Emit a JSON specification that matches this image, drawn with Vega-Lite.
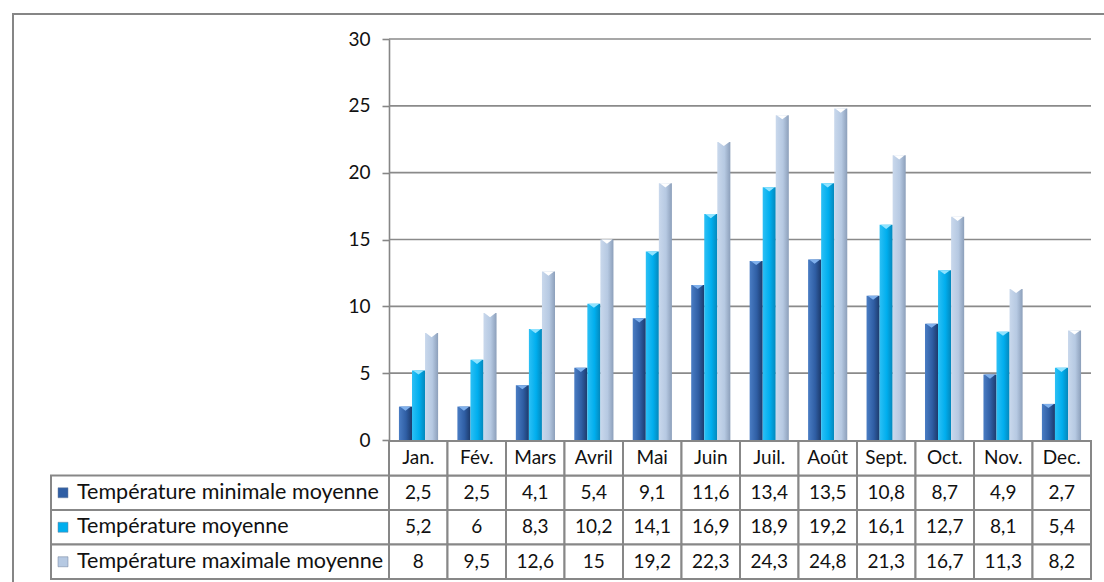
{
  "$schema": "https://vega.github.io/schema/vega-lite/v6.json",
  "width": 1095,
  "height": 572,
  "autosize": {"type": "none"},
  "padding": {"left": 13, "top": 14, "right": 0, "bottom": 0},
  "background": "white",
  "config": {
    "view": {"stroke": "#868686", "strokeWidth": 2},
    "locale": {"number": {"decimal": ",", "thousands": " ", "grouping": [3], "currency": ["", " €"]}},
    "text": {"font": "Lato", "fontSize": 19, "color": "#111111"}
  },
  "datasets": {
    "temps": [
      {"month": "Jan.", "series": "Température minimale moyenne", "value": 2.5},
      {"month": "Fév.", "series": "Température minimale moyenne", "value": 2.5},
      {"month": "Mars", "series": "Température minimale moyenne", "value": 4.1},
      {"month": "Avril", "series": "Température minimale moyenne", "value": 5.4},
      {"month": "Mai", "series": "Température minimale moyenne", "value": 9.1},
      {"month": "Juin", "series": "Température minimale moyenne", "value": 11.6},
      {"month": "Juil.", "series": "Température minimale moyenne", "value": 13.4},
      {"month": "Août", "series": "Température minimale moyenne", "value": 13.5},
      {"month": "Sept.", "series": "Température minimale moyenne", "value": 10.8},
      {"month": "Oct.", "series": "Température minimale moyenne", "value": 8.7},
      {"month": "Nov.", "series": "Température minimale moyenne", "value": 4.9},
      {"month": "Dec.", "series": "Température minimale moyenne", "value": 2.7},
      {"month": "Jan.", "series": "Température moyenne", "value": 5.2},
      {"month": "Fév.", "series": "Température moyenne", "value": 6},
      {"month": "Mars", "series": "Température moyenne", "value": 8.3},
      {"month": "Avril", "series": "Température moyenne", "value": 10.2},
      {"month": "Mai", "series": "Température moyenne", "value": 14.1},
      {"month": "Juin", "series": "Température moyenne", "value": 16.9},
      {"month": "Juil.", "series": "Température moyenne", "value": 18.9},
      {"month": "Août", "series": "Température moyenne", "value": 19.2},
      {"month": "Sept.", "series": "Température moyenne", "value": 16.1},
      {"month": "Oct.", "series": "Température moyenne", "value": 12.7},
      {"month": "Nov.", "series": "Température moyenne", "value": 8.1},
      {"month": "Dec.", "series": "Température moyenne", "value": 5.4},
      {"month": "Jan.", "series": "Température maximale moyenne", "value": 8},
      {"month": "Fév.", "series": "Température maximale moyenne", "value": 9.5},
      {"month": "Mars", "series": "Température maximale moyenne", "value": 12.6},
      {"month": "Avril", "series": "Température maximale moyenne", "value": 15},
      {"month": "Mai", "series": "Température maximale moyenne", "value": 19.2},
      {"month": "Juin", "series": "Température maximale moyenne", "value": 22.3},
      {"month": "Juil.", "series": "Température maximale moyenne", "value": 24.3},
      {"month": "Août", "series": "Température maximale moyenne", "value": 24.8},
      {"month": "Sept.", "series": "Température maximale moyenne", "value": 21.3},
      {"month": "Oct.", "series": "Température maximale moyenne", "value": 16.7},
      {"month": "Nov.", "series": "Température maximale moyenne", "value": 11.3},
      {"month": "Dec.", "series": "Température maximale moyenne", "value": 8.2}
    ],
    "gridlines": [{"g": 5}, {"g": 10}, {"g": 15}, {"g": 20}, {"g": 25}, {"g": 30}]
  },
  "data": {"name": "temps"},
  "resolve": {"scale": {"x": "independent", "y": "independent", "color": "independent", "xOffset": "independent"}},
  "layer": [
    {
      "data": {"name": "gridlines"},
      "mark": {"type": "rule", "color": "#8a8a8a", "strokeWidth": 1.6},
      "encoding": {
        "x": {"datum": 0, "type": "quantitative", "scale": {"domain": [0, 1], "range": [376, 1078]}, "axis": null},
        "x2": {"datum": 1},
        "y": {"field": "g", "type": "quantitative", "scale": {"domain": [0, 30], "range": [426, 25], "nice": false}, "axis": null}
      }
    },
    {
      "transform": [{"filter": "datum.series == 'Température minimale moyenne'"}],
      "mark": {"type": "bar", "color": {"gradient": "linear", "x1": 0, "x2": 1, "y1": 0, "y2": 0, "stops": [{"offset": 0, "color": "#4a7dc4"}, {"offset": 0.55, "color": "#2f5ea4"}, {"offset": 1, "color": "#1c3a6b"}]}},
      "encoding": {
        "x": {"field": "month", "type": "nominal", "scale": {"domain": ["Jan.", "Fév.", "Mars", "Avril", "Mai", "Juin", "Juil.", "Août", "Sept.", "Oct.", "Nov.", "Dec."], "range": [376, 1078], "paddingInner": 0.33, "paddingOuter": 0.17}, "axis": null},
        "xOffset": {"field": "series", "scale": {"domain": ["Température minimale moyenne", "Température moyenne", "Température maximale moyenne"]}},
        "y": {"field": "value", "type": "quantitative", "scale": {"domain": [0, 30], "range": [426, 25], "nice": false},
          "axis": {"orient": "left", "offset": -376, "values": [0, 5, 10, 15, 20, 25, 30], "grid": false, "title": null,
            "domainColor": "#868686", "domainWidth": 1.6, "tickColor": "#868686", "tickWidth": 1.6, "tickSize": 7,
            "labelPadding": 12, "labelFontSize": 19, "labelFont": "Lato", "labelColor": "#111111"}}
      }
    },
    {
      "transform": [{"filter": "datum.series == 'Température moyenne'"}],
      "mark": {"type": "bar", "color": {"gradient": "linear", "x1": 0, "x2": 1, "y1": 0, "y2": 0, "stops": [{"offset": 0, "color": "#2cc0f5"}, {"offset": 0.55, "color": "#00aeee"}, {"offset": 1, "color": "#0487bb"}]}},
      "encoding": {
        "x": {"field": "month", "type": "nominal", "scale": {"domain": ["Jan.", "Fév.", "Mars", "Avril", "Mai", "Juin", "Juil.", "Août", "Sept.", "Oct.", "Nov.", "Dec."], "range": [376, 1078], "paddingInner": 0.33, "paddingOuter": 0.17}, "axis": null},
        "xOffset": {"field": "series", "scale": {"domain": ["Température minimale moyenne", "Température moyenne", "Température maximale moyenne"]}},
        "y": {"field": "value", "type": "quantitative", "scale": {"domain": [0, 30], "range": [426, 25], "nice": false}, "axis": null}
      }
    },
    {
      "transform": [{"filter": "datum.series == 'Température maximale moyenne'"}],
      "mark": {"type": "bar", "color": {"gradient": "linear", "x1": 0, "x2": 1, "y1": 0, "y2": 0, "stops": [{"offset": 0, "color": "#c9d8ec"}, {"offset": 0.55, "color": "#b6c9e2"}, {"offset": 1, "color": "#8c9fba"}]}},
      "encoding": {
        "x": {"field": "month", "type": "nominal", "scale": {"domain": ["Jan.", "Fév.", "Mars", "Avril", "Mai", "Juin", "Juil.", "Août", "Sept.", "Oct.", "Nov.", "Dec."], "range": [376, 1078], "paddingInner": 0.33, "paddingOuter": 0.17}, "axis": null},
        "xOffset": {"field": "series", "scale": {"domain": ["Température minimale moyenne", "Température moyenne", "Température maximale moyenne"]}},
        "y": {"field": "value", "type": "quantitative", "scale": {"domain": [0, 30], "range": [426, 25], "nice": false}, "axis": null}
      }
    },
    {
      "mark": {"type": "point", "filled": true, "shape": "M-1,0L1,0L0,0.75Z", "size": 121, "opacity": 1, "strokeWidth": 0},
      "encoding": {
        "x": {"field": "month", "type": "nominal", "scale": {"domain": ["Jan.", "Fév.", "Mars", "Avril", "Mai", "Juin", "Juil.", "Août", "Sept.", "Oct.", "Nov.", "Dec."], "range": [376, 1078], "paddingInner": 0.33, "paddingOuter": 0.17}, "axis": null},
        "xOffset": {"field": "series", "scale": {"domain": ["Température minimale moyenne", "Température moyenne", "Température maximale moyenne"]}},
        "y": {"field": "value", "type": "quantitative", "scale": {"domain": [0, 30], "range": [426, 25], "nice": false}, "axis": null},
        "color": {"field": "series", "type": "nominal", "scale": {"domain": ["Température minimale moyenne", "Température moyenne", "Température maximale moyenne"], "range": ["#7fb0ec", "#8fe3ff", "#ffffff"]}, "legend": null}
      }
    },
    {
      "mark": {"type": "rect", "fill": "white", "stroke": "#878787", "strokeWidth": 2},
      "encoding": {
        "x": {"field": "month", "type": "nominal", "scale": {"domain": ["Jan.", "Fév.", "Mars", "Avril", "Mai", "Juin", "Juil.", "Août", "Sept.", "Oct.", "Nov.", "Dec."], "range": [376, 1078], "paddingInner": 0, "paddingOuter": 0}, "axis": null},
        "y": {"field": "series", "type": "nominal", "scale": {"domain": ["header", "Température minimale moyenne", "Température moyenne", "Température maximale moyenne"], "range": [427, 565], "paddingInner": 0, "paddingOuter": 0}, "axis": null}
      }
    },
    {
      "transform": [{"aggregate": [{"op": "count", "as": "n"}], "groupby": ["month"]}],
      "mark": {"type": "rect", "fill": "white", "stroke": "#878787", "strokeWidth": 2},
      "encoding": {
        "x": {"field": "month", "type": "nominal", "scale": {"domain": ["Jan.", "Fév.", "Mars", "Avril", "Mai", "Juin", "Juil.", "Août", "Sept.", "Oct.", "Nov.", "Dec."], "range": [376, 1078], "paddingInner": 0, "paddingOuter": 0}, "axis": null},
        "y": {"datum": "header", "type": "nominal", "scale": {"domain": ["header", "Température minimale moyenne", "Température moyenne", "Température maximale moyenne"], "range": [427, 565], "paddingInner": 0, "paddingOuter": 0}, "axis": null}
      }
    },
    {
      "transform": [{"aggregate": [{"op": "count", "as": "n"}], "groupby": ["series"]}],
      "mark": {"type": "rect", "fill": "white", "stroke": "#878787", "strokeWidth": 2},
      "encoding": {
        "x": {"datum": 0, "type": "quantitative", "scale": {"domain": [0, 1], "range": [38, 376]}, "axis": null},
        "x2": {"datum": 1},
        "y": {"field": "series", "type": "nominal", "scale": {"domain": ["header", "Température minimale moyenne", "Température moyenne", "Température maximale moyenne"], "range": [427, 565], "paddingInner": 0, "paddingOuter": 0}, "axis": null}
      }
    },
    {
      "transform": [{"aggregate": [{"op": "count", "as": "n"}], "groupby": ["month"]}],
      "mark": {"type": "text", "baseline": "middle", "align": "center"},
      "encoding": {
        "x": {"field": "month", "type": "nominal", "scale": {"domain": ["Jan.", "Fév.", "Mars", "Avril", "Mai", "Juin", "Juil.", "Août", "Sept.", "Oct.", "Nov.", "Dec."], "range": [376, 1078], "paddingInner": 0, "paddingOuter": 0}, "axis": null},
        "y": {"datum": "header", "type": "nominal", "scale": {"domain": ["header", "Température minimale moyenne", "Température moyenne", "Température maximale moyenne"], "range": [427, 565], "paddingInner": 0, "paddingOuter": 0}, "axis": null},
        "text": {"field": "month"}
      }
    },
    {
      "mark": {"type": "text", "baseline": "middle", "align": "center"},
      "encoding": {
        "x": {"field": "month", "type": "nominal", "scale": {"domain": ["Jan.", "Fév.", "Mars", "Avril", "Mai", "Juin", "Juil.", "Août", "Sept.", "Oct.", "Nov.", "Dec."], "range": [376, 1078], "paddingInner": 0, "paddingOuter": 0}, "axis": null},
        "y": {"field": "series", "type": "nominal", "scale": {"domain": ["header", "Température minimale moyenne", "Température moyenne", "Température maximale moyenne"], "range": [427, 565], "paddingInner": 0, "paddingOuter": 0}, "axis": null},
        "text": {"field": "value", "type": "quantitative", "format": "~g"}
      }
    },
    {
      "transform": [{"aggregate": [{"op": "count", "as": "n"}], "groupby": ["series"]}],
      "mark": {"type": "text", "baseline": "middle", "align": "left", "dx": 26, "fontSize": 21.5},
      "encoding": {
        "x": {"datum": 0, "type": "quantitative", "scale": {"domain": [0, 1], "range": [38, 376]}, "axis": null},
        "y": {"field": "series", "type": "nominal", "scale": {"domain": ["header", "Température minimale moyenne", "Température moyenne", "Température maximale moyenne"], "range": [427, 565], "paddingInner": 0, "paddingOuter": 0}, "axis": null},
        "text": {"field": "series"}
      }
    },
    {
      "transform": [{"aggregate": [{"op": "count", "as": "n"}], "groupby": ["series"]}],
      "mark": {"type": "point", "shape": "square", "filled": true, "size": 100, "opacity": 1, "xOffset": 12, "stroke": "#6d7f99", "strokeWidth": 0.5},
      "encoding": {
        "x": {"datum": 0, "type": "quantitative", "scale": {"domain": [0, 1], "range": [38, 376]}, "axis": null},
        "y": {"field": "series", "type": "nominal", "scale": {"domain": ["header", "Température minimale moyenne", "Température moyenne", "Température maximale moyenne"], "range": [427, 565], "paddingInner": 0, "paddingOuter": 0}, "axis": null},
        "color": {"field": "series", "type": "nominal", "scale": {"domain": ["Température minimale moyenne", "Température moyenne", "Température maximale moyenne"], "range": ["#2f5ea4", "#00aeee", "#b6c9e2"]}, "legend": null}
      }
    }
  ]
}
